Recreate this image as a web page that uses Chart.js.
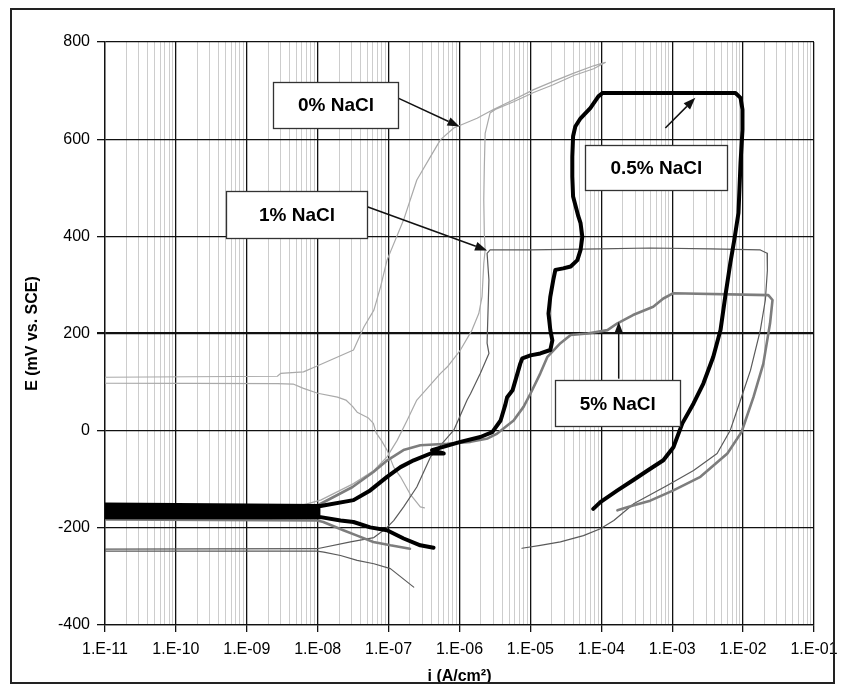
<!DOCTYPE html>
<html>
<head>
<meta charset="utf-8">
<script src="https://cdn.jsdelivr.net/npm/chart.js@4.4.0/dist/chart.umd.min.js"></script>
<style>
  html, body { margin: 0; padding: 0; background: #fff; }
  canvas { display: block; }
</style>
</head>
<body>
<canvas id="chart" width="841" height="686"></canvas>
<script>
// Cyclic polarization scans: [current density (A/cm²), potential (mV vs. SCE)]
const scan0pct = [
  [3.2e-7,-159],[2.8e-7,-157],[2.0e-7,-130],[1.47e-7,-95],[1.18e-7,-75],[9.5e-8,-40],[7.9e-8,-20],
  [6.7e-8,-5],[6.1e-8,15],[5.2e-8,26],[3.6e-8,38],[3.1e-8,50],[2.5e-8,63],[1.9e-8,69],[1.0e-8,77],
  [6.3e-9,87],[4.5e-9,96],[2.7e-9,97],[1e-11,98],[1e-11,110],[2.7e-9,112],[3.0e-9,118],[6.3e-9,121],
  [9.8e-9,133],[1.5e-8,145],[3.2e-8,166],[4.5e-8,214],[6.2e-8,248],[7.7e-8,296],[9.5e-8,351],
  [1.63e-7,434],[2.5e-7,516],[3.9e-7,564],[5.4e-7,599],[8.3e-7,623],[1.77e-6,643],[3.0e-6,661],
  [5.8e-6,681],[1.11e-5,702],[2.1e-5,719],[4.1e-5,736],[7.8e-5,751],[1.14e-4,758],[7.8e-5,745],
  [4.1e-5,731],[2.1e-5,712],[1.11e-5,696],[5.8e-6,677],[3.2e-6,661],[2.7e-6,654],[2.3e-6,612],
  [2.24e-6,544],[2.2e-6,475],[2.24e-6,406],[2.3e-6,372],[2.2e-6,344],[2.08e-6,276],[1.87e-6,241],
  [1.5e-6,207],[1.03e-6,166],[6.7e-7,131],[5.4e-7,118],[2.5e-7,63],[1.82e-7,21],[1.32e-7,-20],
  [9.5e-8,-54],[6.2e-8,-82],[3.2e-8,-109],[1.1e-8,-143],[4.1e-9,-160],[1e-11,-168]
];
const scan1pct = [
  [2.26e-7,-322],[1.06e-7,-284],[6.2e-8,-274],[3.6e-8,-267],[2.1e-8,-257],[1.22e-8,-250],[9.8e-9,-248],
  [1e-11,-248],[1e-11,-244],[9.8e-9,-243],[2.9e-8,-229],[6.2e-8,-220],[8.5e-8,-205],[9.5e-8,-199],
  [1.18e-7,-185],[1.63e-7,-157],[2.5e-7,-116],[3.9e-7,-54],[8.3e-7,1],[1.28e-6,63],[1.43e-6,76],
  [1.97e-6,118],[2.6e-6,159],[2.45e-6,180],[2.6e-6,310],[2.45e-6,365],[2.7e-6,372],[1.0e-5,372],
  [9.7e-5,374],[4.9e-4,376],[3.5e-3,374],[1.75e-2,372],[2.18e-2,365],[2.2e-2,330],[2.06e-2,269],
  [1.75e-2,207],[1.27e-2,124],[9.2e-3,63],[6.6e-3,1],[4.3e-3,-47],[2.0e-3,-82],[8.5e-4,-113],
  [2.9e-4,-150],[1.5e-4,-185],[9.7e-5,-202],[5.6e-5,-216],[2.65e-5,-229],[1.38e-5,-236],[7.6e-6,-242]
];
const scan5pct = [
  [2.0e-7,-243],[1.06e-7,-236],[6.1e-8,-229],[3.6e-8,-216],[2.3e-8,-205],[1.2e-8,-188],[9.9e-9,-185],
  [1e-11,-183],[1e-11,-165],[9.9e-9,-154],[3.1e-8,-116],[6.1e-8,-85],[9.6e-8,-61],[1.62e-7,-40],
  [2.8e-7,-30],[6.7e-7,-27],[1.43e-6,-23],[2.5e-6,-16],[3.4e-6,-6],[5.8e-6,21],[8.0e-6,49],[1.0e-5,76],
  [1.38e-5,118],[1.74e-5,152],[2.65e-5,180],[3.7e-5,197],[6.4e-5,200],[1.22e-4,207],[1.69e-4,221],
  [2.8e-4,238],[5.4e-4,255],[7.5e-4,272],[1.04e-3,283],[2.27e-2,279],[2.6e-2,269],[2.4e-2,221],
  [1.93e-2,138],[1.4e-2,69],[1.08e-2,21],[9.5e-3,-3],[6.0e-3,-47],[2.5e-3,-95],[1.04e-3,-123],
  [4.9e-4,-144],[2.8e-4,-154],[1.69e-4,-164]
];
const scan05pct = [
  [4.3e-7,-241],[2.8e-7,-236],[1.63e-7,-222],[9.5e-8,-205],[5.5e-8,-199],[3.2e-8,-188],[2.1e-8,-185],
  [1.1e-8,-178],[1e-11,-178],[1e-11,-152],[1.1e-8,-155],[3.2e-8,-143],[5.5e-8,-123],[9.5e-8,-95],
  [1.47e-7,-75],[2.26e-7,-61],[3.9e-7,-47],[6.0e-7,-47],[4.1e-7,-40],[1.03e-6,-23],[1.97e-6,-13],
  [2.9e-6,-3],[3.8e-6,21],[4.4e-6,52],[4.7e-6,69],[5.6e-6,83],[7.2e-6,138],[7.7e-6,149],[1.0e-5,155],
  [1.38e-5,159],[1.91e-5,166],[2.04e-5,186],[1.91e-5,207],[1.8e-5,241],[1.91e-5,276],[2.1e-5,310],
  [2.25e-5,331],[2.9e-5,334],[3.7e-5,338],[4.6e-5,351],[5.1e-5,372],[5.4e-5,399],[5.1e-5,427],
  [4.75e-5,441],[4.0e-5,482],[3.9e-5,523],[3.9e-5,564],[4.0e-5,606],[4.3e-5,626],[5.1e-5,643],
  [7.0e-5,664],[9.1e-5,688],[1.04e-4,695],[7.8e-3,695],[9.2e-3,685],[9.8e-3,661],[9.8e-3,619],
  [9.2e-3,551],[8.6e-3,448],[7.5e-3,392],[6.6e-3,345],[5.6e-3,276],[4.8e-3,207],[3.8e-3,152],
  [2.75e-3,97],[2.0e-3,56],[1.39e-3,15],[1.04e-3,-34],[7.5e-4,-61],[4.5e-4,-82],[2.8e-4,-102],
  [1.69e-4,-123],[9.7e-5,-147],[7.7e-5,-161]
];
// Dense noise at the corrosion potential of the 0.5% scan (upper / lower envelope)
const band05Upper = [[1e-11,-152],[3e-9,-153],[1.1e-8,-155]];
const band05Lower = [[1e-11,-178],[3e-9,-178],[1.1e-8,-178]];

// Axis ticks
const xDecades = [1e-11,1e-10,1e-9,1e-8,1e-7,1e-6,1e-5,1e-4,1e-3,1e-2,1e-1];
const xTickLabels = ['1.E-11','1.E-10','1.E-09','1.E-08','1.E-07','1.E-06','1.E-05','1.E-04','1.E-03','1.E-02','1.E-01'];
const yTicks = [-400,-200,0,200,400,600,800];

// Callout boxes: label, centre [i, E], arrow tail and head [i, E]
const callouts = [
  { text: '0% NaCl',   centre: [1.81e-8, 671], w: 125, h: 46, tail: [1.39e-7, 684], head: [1.0e-6, 626] },
  { text: '1% NaCl',   centre: [5.1e-9, 445],  w: 141, h: 47, tail: [5.0e-8, 461],  head: [2.45e-6, 371] },
  { text: '0.5% NaCl', centre: [5.98e-4, 542], w: 142, h: 45, tail: [8.0e-4, 623],  head: [2.12e-3, 685] },
  { text: '5% NaCl',   centre: [1.71e-4, 56],  w: 125, h: 46, tail: [1.76e-4, 107], head: [1.76e-4, 224] }
];

const FONT = "'Liberation Sans', Arial, Helvetica, sans-serif";

// Minor grid positions 2..9 within every decade
const xGridValues = [];
xDecades.forEach((d, k) => {
  xGridValues.push(d);
  if (k < xDecades.length - 1) for (let m = 2; m <= 9; m++) xGridValues.push(m * d);
});
const isDecade = v => Math.abs(Math.log10(v) - Math.round(Math.log10(v))) < 1e-6;

const toPoints = arr => arr.map(([x, y]) => ({ x, y }));
const lineSet = (label, arr, color, width, extra) => Object.assign({
  label, data: toPoints(arr), showLine: true, borderColor: color, backgroundColor: color,
  borderWidth: width, pointRadius: 0, pointHoverRadius: 0, tension: 0, fill: false,
  borderJoinStyle: 'round', borderCapStyle: 'round'
}, extra || {});

const calloutPlugin = {
  id: 'callouts',
  afterDatasetsDraw(chart) {
    const { ctx, scales: { x, y } } = chart;
    ctx.save();
    callouts.forEach(c => {
      // arrow
      const x1 = x.getPixelForValue(c.tail[0]), y1 = y.getPixelForValue(c.tail[1]);
      const x2 = x.getPixelForValue(c.head[0]), y2 = y.getPixelForValue(c.head[1]);
      const ang = Math.atan2(y2 - y1, x2 - x1), hl = 12, hw = 4.5;
      const bx = x2 - hl * Math.cos(ang), by = y2 - hl * Math.sin(ang);
      ctx.strokeStyle = '#111'; ctx.lineWidth = 1.5;
      ctx.beginPath(); ctx.moveTo(x1, y1); ctx.lineTo(bx, by); ctx.stroke();
      ctx.fillStyle = '#111';
      ctx.beginPath();
      ctx.moveTo(x2, y2);
      ctx.lineTo(bx + hw * Math.sin(ang), by - hw * Math.cos(ang));
      ctx.lineTo(bx - hw * Math.sin(ang), by + hw * Math.cos(ang));
      ctx.closePath(); ctx.fill();
      // box
      const cx = x.getPixelForValue(c.centre[0]), cy = y.getPixelForValue(c.centre[1]);
      const left = Math.round(cx - c.w / 2) + 0.5, top = Math.round(cy - c.h / 2) + 0.5;
      ctx.fillStyle = '#fff';
      ctx.fillRect(left, top, c.w, c.h);
      ctx.strokeStyle = '#333'; ctx.lineWidth = 1.3;
      ctx.strokeRect(left, top, c.w, c.h);
      ctx.fillStyle = '#000';
      ctx.font = 'bold 19px ' + FONT;
      ctx.textAlign = 'center'; ctx.textBaseline = 'middle';
      ctx.fillText(c.text, cx, cy + 1);
    });
    ctx.restore();
  }
};

const framePlugin = {
  id: 'frame',
  afterDraw(chart) {
    const ctx = chart.ctx;
    ctx.save();
    ctx.strokeStyle = '#222'; ctx.lineWidth = 2;
    ctx.strokeRect(11, 9, 823, 674);
    ctx.restore();
  }
};

// Chart.js paints datasets from the last index to the first, so the black scan comes first (on top)
new Chart(document.getElementById('chart').getContext('2d'), {
  type: 'scatter',
  data: {
    datasets: [
      lineSet('0.5% NaCl', scan05pct, '#000', 4),
      lineSet('0.5% NaCl band', band05Upper, '#000', 1, { fill: '+1', backgroundColor: '#000' }),
      lineSet('0.5% NaCl band low', band05Lower, '#000', 1),
      lineSet('5% NaCl', scan5pct, '#7d7d7d', 2.6),
      lineSet('1% NaCl', scan1pct, '#5a5a5a', 1.2),
      lineSet('0% NaCl', scan0pct, '#a9a9a9', 1.2)
    ]
  },
  options: {
    responsive: false,
    animation: false,
    events: [],
    layout: { padding: { left: 0, right: 27, top: 42, bottom: 0 } },
    plugins: { legend: { display: false }, tooltip: { enabled: false } },
    scales: {
      x: {
        type: 'logarithmic', position: 'bottom', min: 1e-11, max: 1e-1,
        afterBuildTicks: s => { s.ticks = xGridValues.map(v => ({ value: v })); },
        afterFit: s => { s.height = 61; s.paddingLeft = 0; s.paddingRight = 0; },
        ticks: {
          autoSkip: false, maxRotation: 0, minRotation: 0, padding: 8, color: '#000',
          font: { family: FONT, size: 16 },
          callback: v => {
            const k = xDecades.findIndex(d => Math.abs(Math.log10(d) - Math.log10(v)) < 1e-6);
            return k >= 0 ? xTickLabels[k] : '';
          }
        },
        grid: {
          color: c => (c.tick && isDecade(c.tick.value)) ? '#111' : '#cdcdcd',
          lineWidth: c => (c.tick && isDecade(c.tick.value)) ? 1.3 : 1,
          tickColor: c => (c.tick && isDecade(c.tick.value)) ? '#111' : 'rgba(0,0,0,0)',
          tickLength: 7, drawTicks: true
        },
        border: { color: '#111', width: 1.3 },
        title: {
          display: true, text: 'i (A/cm²)', color: '#000',
          font: { family: FONT, size: 16, weight: 'bold' }, padding: { top: 0, bottom: 0 }
        }
      },
      y: {
        type: 'linear', position: 'left', min: -400, max: 800,
        afterBuildTicks: s => { s.ticks = yTicks.map(v => ({ value: v })); },
        afterFit: s => { s.width = 105; s.paddingTop = 0; s.paddingBottom = 0; },
        ticks: {
          padding: 7, color: '#000', font: { family: FONT, size: 16 },
          callback: v => String(v)
        },
        grid: {
          color: '#111',
          lineWidth: c => (c.tick && c.tick.value === 200) ? 2.2 : 1.3,
          tickColor: '#111', tickLength: 8
        },
        border: { color: '#111', width: 1.3 },
        title: {
          display: true, text: 'E (mV vs. SCE)', color: '#000',
          font: { family: FONT, size: 16, weight: 'bold' }, padding: { top: 23, bottom: 0 }
        }
      }
    }
  },
  plugins: [calloutPlugin, framePlugin]
});
</script>
</body>
</html>
